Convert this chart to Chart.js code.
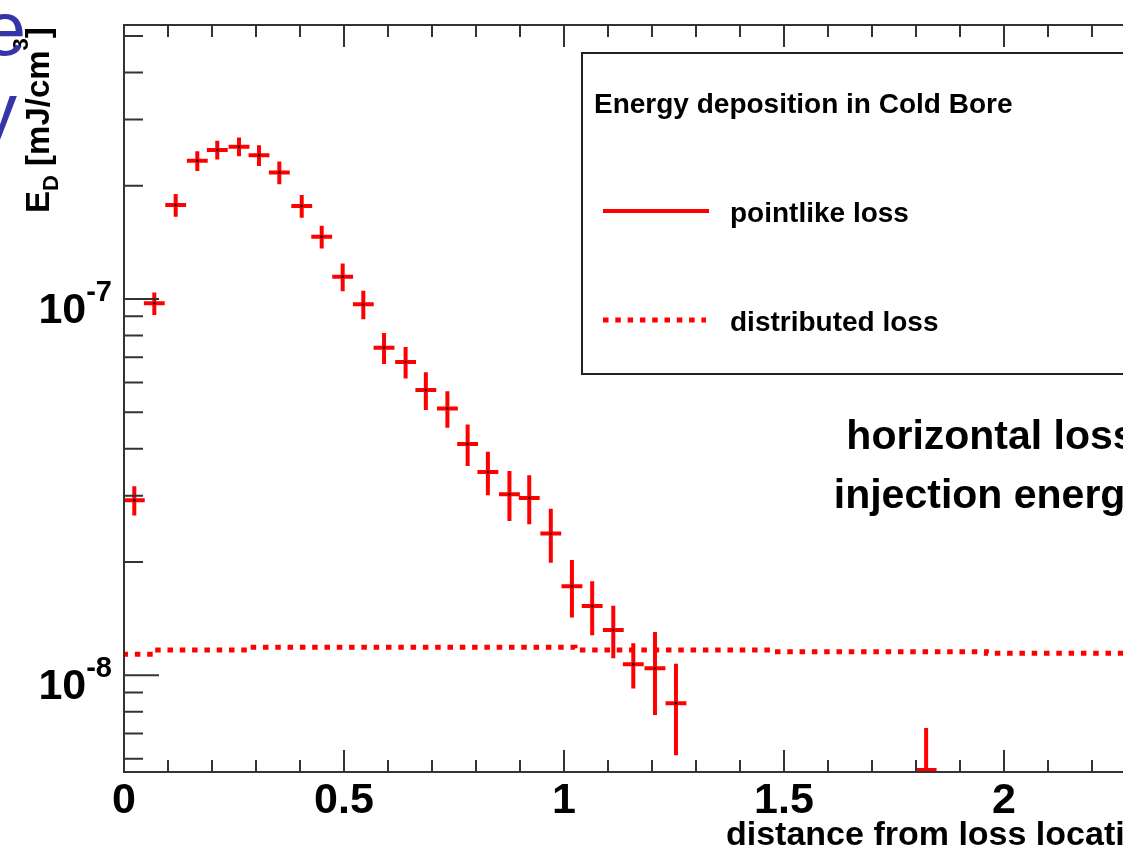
<!DOCTYPE html>
<html>
<head>
<meta charset="utf-8">
<script src="https://cdn.jsdelivr.net/npm/chart.js@4.4.0/dist/chart.umd.min.js"></script>
<style>
    html, body { margin: 0; padding: 0; background: #fff; }
    #marco { position: relative; width: 1123px; height: 859px; overflow: hidden; background: #fff; }
    #grafico_energia { position: absolute; left: 0; top: 0; }
</style>
</head>
<body>
<div id="marco">
    <canvas id="grafico_energia" width="1300" height="859"></canvas>
</div>

<script>
// pointlike loss: bin centres [m], deposited energy [mJ/cm3] and error
const puntualX = [0.0234, 0.0689, 0.1175, 0.1666, 0.2120, 0.2614, 0.3068, 0.3530, 0.4039, 0.4493,
                  0.4970, 0.5439, 0.591, 0.640, 0.686, 0.735, 0.781, 0.827, 0.876, 0.921,
                  0.970, 1.018, 1.064, 1.112, 1.1575, 1.2068, 1.2545, 1.823];
const puntualY = [2.92e-8, 9.74e-8, 1.778e-7, 2.33e-7, 2.49e-7, 2.54e-7, 2.41e-7, 2.17e-7, 1.767e-7, 1.464e-7,
                  1.146e-7, 9.68e-8, 7.42e-8, 6.80e-8, 5.73e-8, 5.12e-8, 4.12e-8, 3.47e-8, 3.03e-8, 2.96e-8,
                  2.38e-8, 1.725e-8, 1.528e-8, 1.32e-8, 1.07e-8, 1.044e-8, 8.43e-9, 3.7e-9];
const puntualErr = [2.6e-9, 6.7e-9, 1.23e-8, 1.4e-8, 1.42e-8, 1.45e-8, 1.52e-8, 1.51e-8, 1.23e-8, 1.02e-8,
                    9.7e-9, 8.4e-9, 7.0e-9, 6.5e-9, 6.6e-9, 5.7e-9, 5.2e-9, 4.6e-9, 4.6e-9, 4.4e-9,
                    3.9e-9, 3.0e-9, 2.5e-9, 2.1e-9, 1.47e-9, 2.6e-9, 2.3e-9, 3.54e-9];
const anchoBin = 0.0474;

// distributed loss: bin left edges [m] and deposited energy
const distribX = [0, 0.070, 0.282, 1.025, 1.472, 1.960, 2.236, 2.5];
const distribY = [1.127e-8, 1.137e-8, 1.167e-8, 1.188e-8, 1.167e-8, 1.155e-8, 1.144e-8, 1.144e-8];

// axes
const xMayores = [0, 0.5, 1, 1.5, 2, 2.5];
const xEtiquetas = ['0', '0.5', '1', '1.5', '2', '2.5'];
const yMayores = [1e-8, 1e-7];
const yExponentes = ['-8', '-7'];
const yMenores = [6e-9, 7e-9, 8e-9, 9e-9, 2e-8, 3e-8, 4e-8, 5e-8, 6e-8, 7e-8, 8e-8, 9e-8, 2e-7, 3e-7, 4e-7, 5e-7];

const tituloLeyenda = 'Energy deposition in Cold Bore';
const tituloX = 'distance from loss location [m]';
const notas = ['horizontal loss', 'injection energy'];
const textoAzul = ['e', 'y'];

const fuente = '"Liberation Sans", Arial, Helvetica, sans-serif';
const rojo = '#ff0000';

// error crosses of the histogram
const barrasError = {
    id: 'barrasError',
    beforeDatasetsDraw(chart) {
        const ctx = chart.ctx, a = chart.chartArea;
        const x = chart.scales.x, y = chart.scales.y;
        ctx.save();
        ctx.beginPath();
        ctx.rect(a.left, a.top, a.right - a.left, a.bottom - a.top);
        ctx.clip();
        ctx.strokeStyle = rojo;
        ctx.lineWidth = 4;
        for (let i = 0; i < puntualX.length; i++) {
            const px = x.getPixelForValue(puntualX[i]);
            const py = Math.min(y.getPixelForValue(puntualY[i]), a.bottom - 2);
            const arriba = y.getPixelForValue(puntualY[i] + puntualErr[i]);
            const bajo = puntualY[i] - puntualErr[i];
            const abajo = bajo > 0 ? Math.min(y.getPixelForValue(bajo), a.bottom) : a.bottom;
            ctx.beginPath();
            ctx.moveTo(px, arriba);
            ctx.lineTo(px, abajo);
            ctx.moveTo(x.getPixelForValue(puntualX[i] - anchoBin / 2), py);
            ctx.lineTo(x.getPixelForValue(puntualX[i] + anchoBin / 2), py);
            ctx.stroke();
        }
        ctx.restore();
    }
};

// frame, inward ticks and labels
const marcoRoot = {
    id: 'marcoRoot',
    afterDraw(chart) {
        const ctx = chart.ctx, a = chart.chartArea;
        const x = chart.scales.x, y = chart.scales.y;
        ctx.save();
        ctx.strokeStyle = '#333';
        ctx.lineWidth = 2;
        ctx.strokeRect(a.left, a.top, a.right - a.left, a.bottom - a.top);

        ctx.beginPath();
        for (let k = 0; k < xMayores.length; k++) {
            const px = x.getPixelForValue(xMayores[k]);
            ctx.moveTo(px, a.bottom); ctx.lineTo(px, a.bottom - 22);
            ctx.moveTo(px, a.top); ctx.lineTo(px, a.top + 22);
            if (k < xMayores.length - 1) {
                const paso = (xMayores[k + 1] - xMayores[k]) / 5;
                for (let j = 1; j < 5; j++) {
                    const pm = x.getPixelForValue(xMayores[k] + j * paso);
                    ctx.moveTo(pm, a.bottom); ctx.lineTo(pm, a.bottom - 12);
                    ctx.moveTo(pm, a.top); ctx.lineTo(pm, a.top + 12);
                }
            }
        }
        yMayores.forEach(function(v) {
            const py = y.getPixelForValue(v);
            ctx.moveTo(a.left, py); ctx.lineTo(a.left + 35, py);
            ctx.moveTo(a.right, py); ctx.lineTo(a.right - 35, py);
        });
        yMenores.forEach(function(v) {
            const py = y.getPixelForValue(v);
            ctx.moveTo(a.left, py); ctx.lineTo(a.left + 19, py);
            ctx.moveTo(a.right, py); ctx.lineTo(a.right - 19, py);
        });
        ctx.stroke();

        ctx.fillStyle = '#000';
        ctx.textBaseline = 'alphabetic';
        ctx.font = 'bold 43px ' + fuente;
        ctx.textAlign = 'center';
        xMayores.forEach(function(v, k) {
            ctx.fillText(xEtiquetas[k], x.getPixelForValue(v), a.bottom + 41);
        });

        ctx.textAlign = 'right';
        yMayores.forEach(function(v, k) {
            const py = y.getPixelForValue(v);
            ctx.font = 'bold 29px ' + fuente;
            const w = ctx.measureText(yExponentes[k]).width;
            ctx.fillText(yExponentes[k], 112, py + 2);
            ctx.font = 'bold 43px ' + fuente;
            ctx.fillText('10', 112 - w, py + 24);
        });

        ctx.textAlign = 'left';
        ctx.font = 'bold 34px ' + fuente;
        ctx.fillText(tituloX, 726, 845);

        // E_D [mJ/cm^3], written bottom to top
        ctx.save();
        ctx.translate(49, 213);
        ctx.rotate(-Math.PI / 2);
        let p = 0;
        const trozos = [['E', 33, 0], ['D', 22, 9], [' [mJ/cm', 33, 0], ['3', 22, -21], [']', 33, 0]];
        trozos.forEach(function(t) {
            ctx.font = 'bold ' + t[1] + 'px ' + fuente;
            ctx.fillText(t[0], p, t[2]);
            p += ctx.measureText(t[0]).width;
        });
        ctx.restore();

        // blue letters of the slide text behind the plot
        ctx.fillStyle = '#3535a8';
        ctx.textAlign = 'right';
        ctx.font = '76px ' + fuente;
        ctx.fillText(textoAzul[0], 26, 55);
        ctx.fillText(textoAzul[1], 17, 136);
        ctx.restore();
    }
};

// legend box and the two text lines on the right
const leyendaRoot = {
    id: 'leyendaRoot',
    afterDraw(chart) {
        const ctx = chart.ctx;
        ctx.save();
        ctx.fillStyle = '#fff';
        ctx.fillRect(582, 53, 700, 321);
        ctx.strokeStyle = '#222';
        ctx.lineWidth = 2;
        ctx.strokeRect(582, 53, 700, 321);

        ctx.fillStyle = '#000';
        ctx.textAlign = 'left';
        ctx.textBaseline = 'alphabetic';
        ctx.font = 'bold 28px ' + fuente;
        ctx.fillText(tituloLeyenda, 594, 113);

        const filas = [211, 320];
        chart.data.datasets.forEach(function(ds, i) {
            ctx.save();
            ctx.strokeStyle = ds.borderColor;
            ctx.lineWidth = ds.borderWidth;
            ctx.setLineDash(ds.borderDash || []);
            ctx.beginPath();
            ctx.moveTo(603, filas[i]);
            ctx.lineTo(i === 0 ? 709 : 706, filas[i]);
            ctx.stroke();
            ctx.restore();
            ctx.fillText(ds.label, 730, filas[i] + 11);
        });

        ctx.textAlign = 'center';
        ctx.font = 'bold 41px ' + fuente;
        ctx.fillText(notas[0], 991, 449);
        ctx.fillText(notas[1], 991, 508);
        ctx.restore();
    }
};

document.addEventListener("DOMContentLoaded", function() {

    var ctx = document.getElementById("grafico_energia").getContext('2d');
    var migrafica = new Chart(ctx, {
        type: 'scatter',
        data: {
            datasets: [{
                label: 'pointlike loss',
                data: puntualX.map(function(v, i) { return { x: v, y: puntualY[i] }; }),
                showLine: false,
                borderColor: rojo,
                borderWidth: 4,
                pointRadius: 1.2,
                pointBorderWidth: 0,
                pointBackgroundColor: '#000'
            }, {
                type: 'line',
                label: 'distributed loss',
                data: distribX.map(function(v, i) { return { x: v, y: distribY[i] }; }),
                stepped: 'after',
                borderColor: rojo,
                borderWidth: 5,
                borderDash: [5.5, 6.8],
                pointRadius: 0,
                fill: false
            }]
        },
        options: {
            responsive: false,
            animation: false,
            devicePixelRatio: 1,
            layout: { padding: { left: 124, right: 76, top: 25, bottom: 87 } },
            scales: {
                x: { type: 'linear', min: 0, max: 2.5, display: false },
                y: { type: 'logarithmic', min: 5.534e-9, max: 5.348e-7, display: false }
            },
            plugins: {
                legend: { display: false },
                tooltip: { enabled: false }
            }
        },
        plugins: [barrasError, marcoRoot, leyendaRoot]
    });

});
</script>
</body>
</html>
